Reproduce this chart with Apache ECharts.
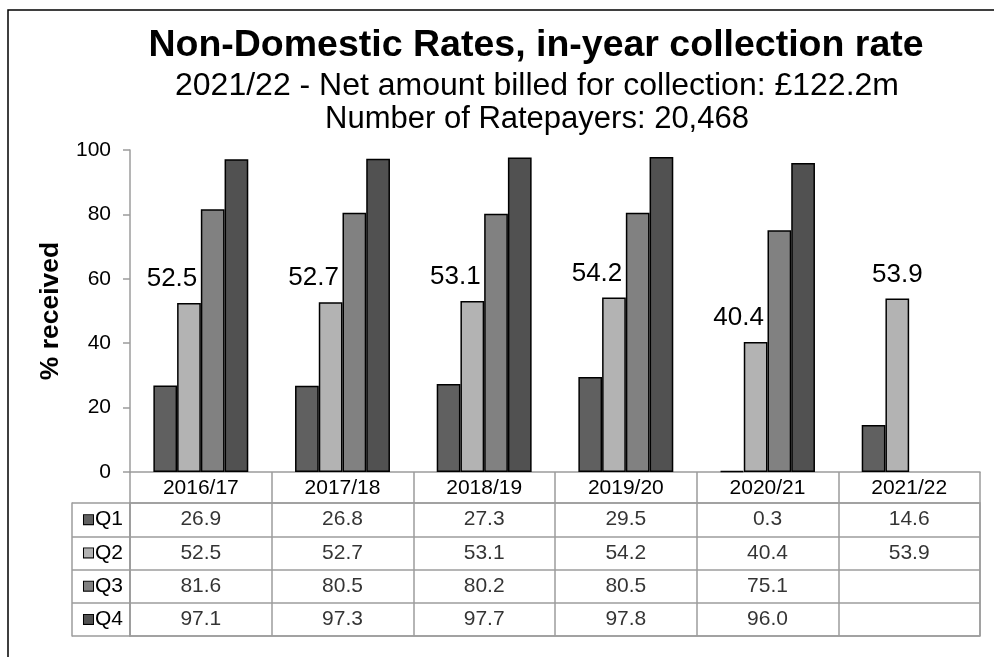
<!DOCTYPE html>
<html>
<head>
<meta charset="utf-8">
<script src="https://cdn.jsdelivr.net/npm/echarts@6/dist/echarts.min.js"></script>
<style>html,body{margin:0;padding:0;background:#fff}#c{width:994px;height:657px}</style>
</head>
<body>
<div id="c"></div>
<script>
const categories = ['2016/17', '2017/18', '2018/19', '2019/20', '2020/21', '2021/22'];
const seriesNames = ['Q1', 'Q2', 'Q3', 'Q4'];
const q1 = [26.9, 26.8, 27.3, 29.5, 0.3, 14.6];
const q2 = [52.5, 52.7, 53.1, 54.2, 40.4, 53.9];
const q3 = [81.6, 80.5, 80.2, 80.5, 75.1, null];
const q4 = [97.1, 97.3, 97.7, 97.8, 96.0, null];
const yTicks = [0, 20, 40, 60, 80, 100];
const titleText = 'Non-Domestic Rates, in-year collection rate';
const subText1 = '2021/22 - Net amount billed for collection: £122.2m';
const subText2 = 'Number of Ratepayers: 20,468';

const allSeries = [q1, q2, q3, q4];
const colors = ['#606060', '#b3b3b3', '#818181', '#515151'];
const gridGray = '#9c9c9c';
const FONT = '"Liberation Sans", Arial, sans-serif';

const chart = echarts.init(document.getElementById('c'));

const barSeries = allSeries.map((arr, s) => ({
  type: 'bar',
  name: seriesNames[s],
  xAxisIndex: 0, yAxisIndex: 0,
  barGap: '0%',
  barCategoryGap: '33%',
  itemStyle: { color: colors[s], borderColor: '#000', borderWidth: 1.5 },
  data: arr.map((v, i) => {
    if (s !== 1) return v;
    return {
      value: v,
      label: {
        show: true, position: 'top', distance: 11,
        offset: [i < arr.length - 1 ? -17 : 0, 0],
        fontSize: 26, color: '#000', fontFamily: FONT,
        formatter: p => p.value.toFixed(1)
      }
    };
  }),
  animation: false
}));

const tableData = [];
allSeries.forEach((arr, s) => arr.forEach((v, i) => {
  if (v !== null) tableData.push([i, s, v]);
}));

const rich = { t: { fontSize: 21, color: '#000', fontFamily: FONT, padding: [0, 0, 0, 2] } };
colors.forEach((c, s) => {
  rich['m' + s] = { width: 9, height: 9, backgroundColor: c, borderColor: '#000', borderWidth: 1 };
});

chart.setOption({
  animation: false,
  textStyle: { fontFamily: FONT },
  graphic: [
    { type: 'rect', shape: { x: 8, y: 10, width: 1200, height: 900 }, style: { fill: 'none', stroke: '#000', lineWidth: 1.5 }, silent: true },
    { type: 'text', x: 536, y: 46, style: { text: titleText, font: 'bold 37.5px ' + FONT, fill: '#000', align: 'center', verticalAlign: 'middle', textAlign: 'center', textVerticalAlign: 'middle' } },
    { type: 'text', x: 537, y: 86, style: { text: subText1, font: '32px ' + FONT, fill: '#000', align: 'center', verticalAlign: 'middle', textAlign: 'center', textVerticalAlign: 'middle' } },
    { type: 'text', x: 537, y: 119, style: { text: subText2, font: '31px ' + FONT, fill: '#000', align: 'center', verticalAlign: 'middle', textAlign: 'center', textVerticalAlign: 'middle' } }
  ],
  grid: [
    { left: 130, right: 14, top: 150, bottom: 185 },
    { left: 130, right: 14, top: 503, bottom: 21, show: true, borderColor: gridGray, borderWidth: 1.5 }
  ],
  xAxis: [
    {
      type: 'category', gridIndex: 0, data: categories,
      axisLine: { show: true, lineStyle: { color: gridGray, width: 1.5 } },
      axisTick: { show: true, length: 31, interval: 0, lineStyle: { color: gridGray, width: 1.5 } },
      axisLabel: { show: true, interval: 0, margin: 6, fontSize: 21, color: '#000', fontFamily: FONT },
      splitLine: { show: false }
    },
    {
      type: 'category', gridIndex: 1, data: categories,
      axisLine: { show: false }, axisTick: { show: false }, axisLabel: { show: false },
      splitLine: { show: true, interval: 0, lineStyle: { color: gridGray, width: 1.5 } }
    }
  ],
  yAxis: [
    {
      type: 'value', gridIndex: 0, min: yTicks[0], max: yTicks[yTicks.length - 1], interval: yTicks[1] - yTicks[0],
      name: '% received', nameLocation: 'middle', nameGap: 66,
      nameTextStyle: { fontSize: 26.5, fontWeight: 'bold', color: '#000', fontFamily: FONT },
      axisLine: { show: true, lineStyle: { color: gridGray, width: 1.5 } },
      axisTick: { show: true, length: 7, lineStyle: { color: gridGray, width: 1.5 } },
      axisLabel: { margin: 19, fontSize: 21, color: '#000', fontFamily: FONT },
      splitLine: { show: false }
    },
    {
      type: 'category', gridIndex: 1, data: seriesNames, inverse: true,
      axisLine: { show: true, lineStyle: { color: gridGray, width: 1.5 } },
      axisTick: { show: true, length: 58, interval: 0, lineStyle: { color: gridGray, width: 1.5 } },
      axisLabel: {
        interval: 0, margin: 7,
        formatter: (val, idx) => '{m' + idx + '|}{t|' + val + '}',
        rich: rich
      },
      splitLine: { show: true, interval: 0, lineStyle: { color: gridGray, width: 1.5 } }
    },
    {
      type: 'category', gridIndex: 1, data: seriesNames, inverse: true, position: 'left', offset: 58,
      axisLine: { show: true, lineStyle: { color: gridGray, width: 1.5 } },
      axisTick: { show: false }, axisLabel: { show: false }, splitLine: { show: false }
    }
  ],
  series: barSeries.concat([{
    type: 'scatter', xAxisIndex: 1, yAxisIndex: 1,
    symbolSize: 2, itemStyle: { color: 'rgba(0,0,0,0)' },
    data: tableData,
    label: {
      show: true, position: 'inside', fontSize: 21, color: '#000', fontFamily: FONT,
      formatter: p => p.value[2].toFixed(1)
    },
    emphasis: { disabled: true },
    silent: true
  }])
});
</script>
</body>
</html>
